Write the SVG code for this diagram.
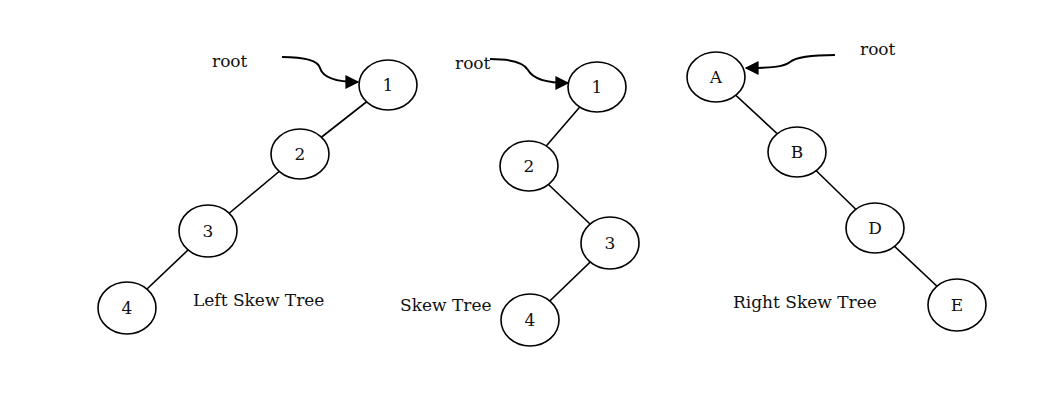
<svg xmlns="http://www.w3.org/2000/svg" width="1054" height="404" viewBox="0 0 1054 404">
<style>
.n ellipse{fill:#fff;stroke:#000;stroke-width:1.6}
.n text,.lbl{font-family:"DejaVu Serif","Liberation Serif",serif;font-size:17px;fill:#111}
.n text{text-anchor:middle;dominant-baseline:central}
.e line{stroke:#000;stroke-width:1.6}
.a{fill:none;stroke:#000;stroke-width:2}
</style>
<defs>
<marker id="ah" viewBox="0 0 10 10" refX="9" refY="5" markerWidth="7.5" markerHeight="7" orient="auto" markerUnits="strokeWidth">
<path d="M0,0 L10,5 L0,10 Z" fill="#000"/>
</marker>
</defs>
<rect width="1054" height="404" fill="#fff"/>
<g id="connectors" class="e">
<line x1="388" y1="85" x2="300" y2="154"/>
<line x1="300" y1="154" x2="208" y2="231"/>
<line x1="208" y1="231" x2="127" y2="308"/>
<line x1="597" y1="87" x2="529" y2="166"/>
<line x1="529" y1="166" x2="610" y2="243"/>
<line x1="610" y1="243" x2="530" y2="320"/>
<line x1="716" y1="77" x2="797" y2="152"/>
<line x1="797" y1="152" x2="875" y2="228"/>
<line x1="875" y1="228" x2="957" y2="305"/>
<path class="a" d="M282,57 C308,57 318,61 320,68 C323,78 338,82 358,82" marker-end="url(#ah)"/>
<path class="a" d="M490,59 C512,59 524,63 528,70 C533,79 545,83 568,83" marker-end="url(#ah)"/>
<path class="a" d="M835,55 C805,55 795,58 790,62 C784,67 770,68 746,68" marker-end="url(#ah)"/>
</g>
<g id="n-l1" class="n"><ellipse cx="388" cy="85" rx="29" ry="25"/><text x="388" y="85">1</text></g>
<g id="n-l2" class="n"><ellipse cx="300" cy="154" rx="29" ry="25"/><text x="300" y="154">2</text></g>
<g id="n-l3" class="n"><ellipse cx="208" cy="231" rx="29" ry="26"/><text x="208" y="231">3</text></g>
<g id="n-l4" class="n"><ellipse cx="127" cy="308" rx="29" ry="26"/><text x="127" y="308">4</text></g>
<g id="n-m1" class="n"><ellipse cx="597" cy="87" rx="29" ry="25"/><text x="597" y="87">1</text></g>
<g id="n-m2" class="n"><ellipse cx="529" cy="166" rx="29" ry="25"/><text x="529" y="166">2</text></g>
<g id="n-m3" class="n"><ellipse cx="610" cy="243" rx="29" ry="26"/><text x="610" y="243">3</text></g>
<g id="n-m4" class="n"><ellipse cx="530" cy="320" rx="29" ry="26"/><text x="530" y="320">4</text></g>
<g id="n-rA" class="n"><ellipse cx="716" cy="77" rx="29" ry="25"/><text x="716" y="77">A</text></g>
<g id="n-rB" class="n"><ellipse cx="797" cy="152" rx="29" ry="25"/><text x="797" y="152">B</text></g>
<g id="n-rD" class="n"><ellipse cx="875" cy="228" rx="29" ry="25"/><text x="875" y="228">D</text></g>
<g id="n-rE" class="n"><ellipse cx="957" cy="305" rx="29" ry="26"/><text x="957" y="305">E</text></g>
<g id="labels">
<text class="lbl" x="212" y="67">root</text>
<text class="lbl" x="455" y="69">root</text>
<text class="lbl" x="860" y="55">root</text>
<text class="lbl" x="193" y="306">Left Skew Tree</text>
<text class="lbl" x="400" y="311">Skew Tree</text>
<text class="lbl" x="733" y="308">Right Skew Tree</text>
</g>
</svg>
